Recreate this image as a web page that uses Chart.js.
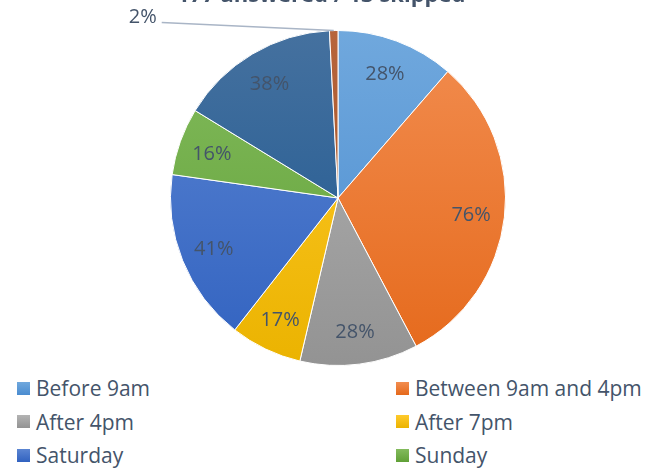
<!DOCTYPE html>
<html>
<head>
<meta charset="utf-8">
<script src="https://cdn.jsdelivr.net/npm/chart.js@4.4.1/dist/chart.umd.min.js"></script>
<style>
  html, body { margin: 0; padding: 0; background: #fff; overflow: hidden; }
  #wrap { position: relative; width: 653px; height: 473px; }
  #chart-box { position: absolute; left: 0; top: 0; width: 653px; height: 372px; }
  .legend-item { position: absolute; display: flex; align-items: center; height: 26px;
    font: 21px "Open Sans", sans-serif; color: #44546A; white-space: nowrap; }
  .legend-item .box { width: 13px; height: 13px; margin-right: 6px; }
</style>
</head>
<body>
<div id="wrap">
  <div id="chart-box"><canvas id="pie-chart"></canvas></div>
  <div id="legend"></div>
</div>
<script>
// data
var titleText = "177 answered / 13 skipped";
var categories = ["Before 9am", "Between 9am and 4pm", "After 4pm", "After 7pm", "Saturday", "Sunday", "Any time", "Other"];
var percentValues = [28, 76, 28, 17, 41, 16, 38, 2];

// light / dark end of each slice gradient
var sliceColors = [
    ["#70A8DD", "#4A8CD0"],
    ["#F28D50", "#E5691B"],
    ["#B3B3B3", "#939393"],
    ["#FFCA2C", "#EBB300"],
    ["#5B85D2", "#3162C0"],
    ["#83BB5D", "#60A036"],
    ["#45719F", "#1C568F"],
    ["#B7653C", "#9E4E1C"]
];
var textColor = "#44546A";

// draws the percentage labels (small slices get a leader line)
var pieLabels = {
    id: "pieLabels",
    afterDatasetsDraw: function(chart) {
        var ctx = chart.ctx;
        var meta = chart.getDatasetMeta(0);
        ctx.save();
        ctx.font = '20px "Open Sans"';
        ctx.fillStyle = textColor;
        ctx.textBaseline = "middle";
        meta.data.forEach(function(arc, i) {
            var p = arc.getProps(["x", "y", "startAngle", "endAngle", "outerRadius"], true);
            var mid = (p.startAngle + p.endAngle) / 2;
            var text = percentValues[i] + "%";
            if (percentValues[i] >= 5) {
                ctx.textAlign = "center";
                ctx.fillText(text, p.x + Math.cos(mid) * p.outerRadius * 0.8, p.y + Math.sin(mid) * p.outerRadius * 0.8 + 1.5);
            } else {
                var ex = p.x + Math.cos(mid) * p.outerRadius;
                var ey = p.y + Math.sin(mid) * p.outerRadius;
                ctx.strokeStyle = "#A9B5C6";
                ctx.lineWidth = 1.5;
                ctx.beginPath();
                ctx.moveTo(ex, ey);
                ctx.lineTo(ex - 172, ey - 8);
                ctx.stroke();
                ctx.textAlign = "right";
                ctx.fillText(text, ex - 177, ey - 13);
            }
        });
        ctx.restore();
    }
};

// title sits mostly above the visible area
var cutTitle = {
    id: "cutTitle",
    afterDraw: function(chart) {
        var ctx = chart.ctx;
        ctx.save();
        ctx.font = 'bold 22px "Open Sans"';
        ctx.fillStyle = textColor;
        ctx.textAlign = "center";
        ctx.textBaseline = "alphabetic";
        ctx.fillText(titleText, chart.width * 0.492, 1.5);
        ctx.restore();
    }
};

var chartData = {
    labels: categories,
    datasets: [{
        data: percentValues,
        backgroundColor: function(c) {
            var area = c.chart.chartArea;
            var pair = sliceColors[c.dataIndex];
            if (!area) return pair[0];
            var g = c.chart.ctx.createLinearGradient(0, area.top, 0, area.bottom);
            g.addColorStop(0, pair[0]);
            g.addColorStop(1, pair[1]);
            return g;
        },
        borderColor: "#ffffff",
        borderWidth: 1
    }]
};

var chartOptions = {
    responsive: true,
    maintainAspectRatio: false,
    animation: false,
    layout: { padding: { top: 30, bottom: 6, left: 170, right: 147 } },
    plugins: {
        legend: { display: false },
        tooltip: { enabled: false }
    }
};

new Chart(document.getElementById("pie-chart"), {
    type: "pie",
    data: chartData,
    options: chartOptions,
    plugins: [pieLabels, cutTitle]
});

// legend in two columns
var legendEl = document.getElementById("legend");
categories.forEach(function(name, i) {
    var item = document.createElement("div");
    item.className = "legend-item";
    item.style.left = (i % 2 === 0 ? 17 : 396) + "px";
    item.style.top = (375 + Math.floor(i / 2) * 33.7) + "px";
    var box = document.createElement("span");
    box.className = "box";
    box.style.background = "linear-gradient(" + sliceColors[i][0] + "," + sliceColors[i][1] + ")";
    item.appendChild(box);
    item.appendChild(document.createTextNode(name));
    legendEl.appendChild(item);
});
</script>
</body>
</html>
